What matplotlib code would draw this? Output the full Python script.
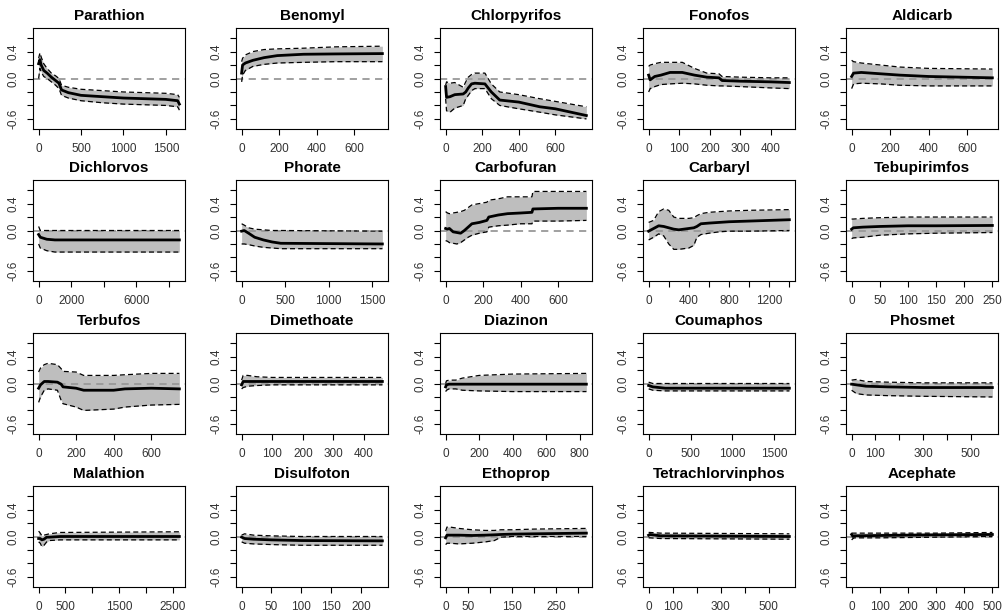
import matplotlib
matplotlib.use("Agg")
from matplotlib import pyplot as plt

plt.rcParams['font.family'] = ['Liberation Sans', 'DejaVu Sans']

# ---- data (x, mean, lower, upper) ----
parathion_x = [0, 15, 30, 60, 100, 150, 200, 240, 270, 350, 500, 750, 1000, 1250, 1500, 1640, 1660]
parathion_mid = [0.22, 0.28, 0.2, 0.12, 0.08, 0.02, -0.03, -0.07, -0.17, -0.21, -0.25, -0.27, -0.29, -0.3, -0.31, -0.33, -0.38]
parathion_lo = [0.0, 0.15, 0.1, 0.03, 0.0, -0.05, -0.1, -0.15, -0.25, -0.29, -0.33, -0.36, -0.38, -0.39, -0.4, -0.42, -0.47]
parathion_hi = [0.3, 0.38, 0.32, 0.22, 0.15, 0.08, 0.04, 0.0, -0.1, -0.13, -0.16, -0.18, -0.2, -0.21, -0.22, -0.24, -0.28]

benomyl_x = [0, 5, 20, 60, 120, 190, 330, 500, 750]
benomyl_mid = [0.08, 0.2, 0.23, 0.27, 0.31, 0.34, 0.36, 0.365, 0.37]
benomyl_lo = [-0.05, 0.05, 0.12, 0.18, 0.21, 0.23, 0.24, 0.25, 0.25]
benomyl_hi = [0.25, 0.3, 0.35, 0.4, 0.43, 0.44, 0.45, 0.47, 0.48]

chlorpyrifos_x = [0, 5, 24, 50, 96, 110, 124, 142, 160, 215, 250, 296, 400, 515, 600, 770]
chlorpyrifos_mid = [-0.12, -0.28, -0.27, -0.24, -0.23, -0.2, -0.14, -0.08, -0.07, -0.08, -0.2, -0.32, -0.35, -0.42, -0.45, -0.55]
chlorpyrifos_lo = [-0.3, -0.48, -0.5, -0.44, -0.4, -0.3, -0.25, -0.18, -0.15, -0.15, -0.3, -0.4, -0.45, -0.5, -0.54, -0.6]
chlorpyrifos_hi = [-0.1, -0.05, -0.07, -0.06, -0.13, -0.05, 0.02, 0.06, 0.08, 0.08, -0.08, -0.2, -0.24, -0.3, -0.34, -0.42]

fonofos_x = [0, 5, 20, 40, 70, 110, 150, 190, 230, 240, 300, 400, 460]
fonofos_mid = [0.05, -0.02, 0.03, 0.05, 0.09, 0.09, 0.05, 0.02, 0.01, -0.03, -0.04, -0.05, -0.06]
fonofos_lo = [-0.2, -0.15, -0.12, -0.09, -0.08, -0.07, -0.08, -0.1, -0.11, -0.11, -0.12, -0.14, -0.15]
fonofos_hi = [0.18, 0.2, 0.22, 0.24, 0.24, 0.24, 0.15, 0.08, 0.07, 0.03, 0.02, 0.01, 0.01]

aldicarb_x = [0, 10, 50, 150, 250, 400, 730]
aldicarb_mid = [0.03, 0.08, 0.09, 0.07, 0.05, 0.03, 0.01]
aldicarb_lo = [-0.15, -0.08, -0.07, -0.08, -0.1, -0.11, -0.11]
aldicarb_hi = [0.27, 0.25, 0.23, 0.2, 0.17, 0.15, 0.14]

dichlorvos_x = [0, 100, 500, 1000, 8650]
dichlorvos_mid = [-0.06, -0.1, -0.13, -0.14, -0.14]
dichlorvos_lo = [-0.2, -0.26, -0.3, -0.32, -0.32]
dichlorvos_hi = [0.06, 0.0, 0.0, 0.0, 0.0]

phorate_x = [0, 30, 80, 150, 250, 350, 450, 1620]
phorate_mid = [-0.01, 0.0, -0.04, -0.1, -0.14, -0.17, -0.19, -0.2]
phorate_lo = [-0.2, -0.2, -0.21, -0.23, -0.25, -0.26, -0.27, -0.27]
phorate_hi = [0.1, 0.08, 0.04, 0.02, 0.01, 0.0, 0.0, -0.01]

carbofuran_x = [0, 10, 20, 40, 60, 80, 100, 120, 140, 180, 220, 230, 280, 330, 400, 460, 465, 600, 750]
carbofuran_mid = [0.03, 0.02, 0.03, -0.02, -0.03, -0.04, 0.0, 0.05, 0.1, 0.12, 0.15, 0.2, 0.23, 0.25, 0.26, 0.27, 0.32, 0.33, 0.33]
carbofuran_lo = [-0.15, -0.16, -0.18, -0.19, -0.2, -0.18, -0.14, -0.1, -0.07, -0.04, -0.02, 0.05, 0.07, 0.08, 0.1, 0.1, 0.14, 0.14, 0.15]
carbofuran_hi = [0.28, 0.26, 0.25, 0.26, 0.27, 0.28, 0.3, 0.34, 0.38, 0.4, 0.42, 0.45, 0.47, 0.5, 0.5, 0.5, 0.58, 0.58, 0.58]

carbaryl_x = [0, 50, 100, 150, 200, 250, 300, 400, 450, 480, 520, 600, 700, 800, 1000, 1400]
carbaryl_mid = [-0.01, 0.03, 0.07, 0.06, 0.04, 0.02, 0.01, 0.03, 0.04, 0.06, 0.1, 0.11, 0.12, 0.13, 0.14, 0.16]
carbaryl_lo = [-0.14, -0.1, -0.05, -0.08, -0.2, -0.28, -0.28, -0.26, -0.22, -0.1, -0.06, -0.04, -0.02, -0.01, -0.01, 0.0]
carbaryl_hi = [0.12, 0.15, 0.28, 0.32, 0.3, 0.2, 0.18, 0.18, 0.19, 0.22, 0.25, 0.27, 0.28, 0.29, 0.3, 0.31]

tebupirimfos_x = [0, 3, 20, 50, 100, 150, 250]
tebupirimfos_mid = [0.02, 0.04, 0.05, 0.06, 0.07, 0.07, 0.075]
tebupirimfos_lo = [-0.12, -0.11, -0.1, -0.07, -0.05, -0.04, -0.03]
tebupirimfos_hi = [0.17, 0.17, 0.18, 0.19, 0.2, 0.2, 0.2]

terbufos_x = [0, 10, 30, 50, 100, 120, 130, 200, 240, 400, 460, 600, 750]
terbufos_mid = [-0.07, -0.02, 0.03, 0.03, 0.02, -0.01, -0.05, -0.07, -0.1, -0.1, -0.08, -0.07, -0.08]
terbufos_lo = [-0.28, -0.2, -0.1, -0.08, -0.1, -0.25, -0.3, -0.35, -0.4, -0.38, -0.35, -0.32, -0.31]
terbufos_hi = [0.17, 0.23, 0.28, 0.3, 0.28, 0.22, 0.18, 0.17, 0.12, 0.12, 0.13, 0.15, 0.15]

dimethoate_x = [0, 5, 20, 50, 100, 460]
dimethoate_mid = [-0.02, 0.03, 0.03, 0.03, 0.03, 0.03]
dimethoate_lo = [-0.08, -0.06, -0.04, -0.03, -0.02, -0.02]
dimethoate_hi = [0.05, 0.12, 0.12, 0.1, 0.09, 0.09]

diazinon_x = [0, 5, 20, 60, 100, 200, 400, 840]
diazinon_mid = [-0.05, -0.02, -0.01, -0.01, -0.01, -0.01, -0.01, -0.01]
diazinon_lo = [-0.12, -0.1, -0.08, -0.08, -0.1, -0.11, -0.12, -0.12]
diazinon_hi = [0.0, 0.04, 0.05, 0.05, 0.08, 0.12, 0.14, 0.15]

coumaphos_x = [0, 50, 200, 1680]
coumaphos_mid = [-0.03, -0.05, -0.07, -0.07]
coumaphos_lo = [-0.08, -0.1, -0.11, -0.11]
coumaphos_hi = [0.02, 0.0, 0.0, 0.0]

phosmet_x = [0, 20, 60, 150, 300, 590]
phosmet_mid = [-0.01, -0.02, -0.04, -0.05, -0.06, -0.06]
phosmet_lo = [-0.1, -0.15, -0.17, -0.18, -0.19, -0.2]
phosmet_hi = [0.05, 0.06, 0.03, 0.02, 0.01, 0.01]

malathion_x = [0, 30, 60, 100, 150, 200, 400, 2620]
malathion_mid = [-0.03, -0.03, -0.05, -0.04, -0.01, -0.01, 0.0, 0.0]
malathion_lo = [-0.08, -0.1, -0.15, -0.13, -0.08, -0.06, -0.05, -0.05]
malathion_hi = [0.08, 0.05, 0.01, 0.02, 0.03, 0.04, 0.06, 0.07]

disulfoton_x = [0, 5, 20, 50, 100, 236]
disulfoton_mid = [-0.01, -0.03, -0.04, -0.05, -0.06, -0.065]
disulfoton_lo = [-0.08, -0.1, -0.11, -0.12, -0.13, -0.13]
disulfoton_hi = [0.02, 0.04, 0.02, 0.01, 0.0, 0.0]

ethoprop_x = [0, 3, 10, 30, 60, 90, 110, 125, 150, 200, 318]
ethoprop_mid = [-0.02, 0.02, 0.02, 0.02, 0.015, 0.02, 0.025, 0.03, 0.035, 0.04, 0.05]
ethoprop_lo = [-0.12, -0.1, -0.1, -0.11, -0.1, -0.08, -0.06, -0.01, 0.0, 0.0, 0.0]
ethoprop_hi = [0.08, 0.14, 0.14, 0.12, 0.1, 0.09, 0.09, 0.1, 0.1, 0.11, 0.12]

tetrachlorvinphos_x = [0, 5, 50, 585]
tetrachlorvinphos_mid = [0.02, 0.03, 0.01, 0.0]
tetrachlorvinphos_lo = [-0.02, -0.02, -0.03, -0.04]
tetrachlorvinphos_hi = [0.06, 0.06, 0.05, 0.04]

acephate_x = [0, 5, 10, 100, 300, 500]
acephate_mid = [0.03, 0.0, 0.01, 0.015, 0.025, 0.03]
acephate_lo = [-0.05, -0.03, -0.02, -0.02, -0.01, 0.0]
acephate_hi = [0.05, 0.05, 0.05, 0.05, 0.05, 0.06]

# x tick positions and which of them carry a label
ticks_500 = [0, 500, 1000, 1500]
ticks_200 = [0, 200, 400, 600]
ticks_100 = [0, 100, 200, 300, 400]

panels = [
    ("Parathion", parathion_x, parathion_mid, parathion_lo, parathion_hi, ticks_500, ticks_500),
    ("Benomyl", benomyl_x, benomyl_mid, benomyl_lo, benomyl_hi, ticks_200, ticks_200),
    ("Chlorpyrifos", chlorpyrifos_x, chlorpyrifos_mid, chlorpyrifos_lo, chlorpyrifos_hi, ticks_200, ticks_200),
    ("Fonofos", fonofos_x, fonofos_mid, fonofos_lo, fonofos_hi, ticks_100, ticks_100),
    ("Aldicarb", aldicarb_x, aldicarb_mid, aldicarb_lo, aldicarb_hi, ticks_200, ticks_200),
    ("Dichlorvos", dichlorvos_x, dichlorvos_mid, dichlorvos_lo, dichlorvos_hi,
     [0, 2000, 4000, 6000, 8000], [0, 2000, 6000]),
    ("Phorate", phorate_x, phorate_mid, phorate_lo, phorate_hi, ticks_500, ticks_500),
    ("Carbofuran", carbofuran_x, carbofuran_mid, carbofuran_lo, carbofuran_hi, ticks_200, ticks_200),
    ("Carbaryl", carbaryl_x, carbaryl_mid, carbaryl_lo, carbaryl_hi,
     [0, 200, 400, 600, 800, 1000, 1200, 1400], [0, 400, 800, 1200]),
    ("Tebupirimfos", tebupirimfos_x, tebupirimfos_mid, tebupirimfos_lo, tebupirimfos_hi,
     [0, 50, 100, 150, 200, 250], [0, 50, 100, 150, 200, 250]),
    ("Terbufos", terbufos_x, terbufos_mid, terbufos_lo, terbufos_hi, ticks_200, ticks_200),
    ("Dimethoate", dimethoate_x, dimethoate_mid, dimethoate_lo, dimethoate_hi, ticks_100, ticks_100),
    ("Diazinon", diazinon_x, diazinon_mid, diazinon_lo, diazinon_hi,
     [0, 200, 400, 600, 800], [0, 200, 400, 600, 800]),
    ("Coumaphos", coumaphos_x, coumaphos_mid, coumaphos_lo, coumaphos_hi, ticks_500, ticks_500),
    ("Phosmet", phosmet_x, phosmet_mid, phosmet_lo, phosmet_hi,
     [0, 100, 200, 300, 400, 500], [0, 100, 300, 500]),
    ("Malathion", malathion_x, malathion_mid, malathion_lo, malathion_hi,
     [0, 500, 1000, 1500, 2000, 2500], [0, 500, 1500, 2500]),
    ("Disulfoton", disulfoton_x, disulfoton_mid, disulfoton_lo, disulfoton_hi,
     [0, 50, 100, 150, 200], [0, 50, 100, 150, 200]),
    ("Ethoprop", ethoprop_x, ethoprop_mid, ethoprop_lo, ethoprop_hi,
     [0, 50, 100, 150, 200, 250, 300], [0, 50, 150, 250]),
    ("Tetrachlorvinphos", tetrachlorvinphos_x, tetrachlorvinphos_mid, tetrachlorvinphos_lo, tetrachlorvinphos_hi,
     [0, 100, 200, 300, 400, 500], [0, 100, 300, 500]),
    ("Acephate", acephate_x, acephate_mid, acephate_lo, acephate_hi,
     [0, 100, 200, 300, 400, 500], [0, 100, 200, 300, 400, 500]),
]

y_ticks = [-0.6, -0.4, -0.2, 0.0, 0.2, 0.4, 0.6]
y_labels = ["-0.6", "", "", "0.0", "", "0.4", ""]

W, H = 1003, 616
fig = plt.figure(figsize=(W / 100, H / 100), dpi=100)

col_left = [33, 236, 440, 643, 846]
row_top = [28, 180, 333, 486]
pw, ph = 152, 101

for i, (name, x, mid, lo, hi, ticks, shown) in enumerate(panels):
    r, c = divmod(i, 5)
    ax = fig.add_axes([col_left[c] / W, 1 - (row_top[r] + ph) / H, pw / W, ph / H])

    ax.fill_between(x, lo, hi, color='#bebebe', lw=0)
    ax.axhline(0, color='#999999', lw=1.3, ls=(0, (4, 3)))
    ax.plot(x, lo, color='black', lw=0.9, ls=(0, (4, 2.5)))
    ax.plot(x, hi, color='black', lw=0.9, ls=(0, (4, 2.5)))
    ax.plot(x, mid, color='black', lw=2)

    ax.margins(x=0.04)
    ax.set_ylim(-0.75, 0.75)
    ax.set_yticks(y_ticks)
    ax.set_yticklabels(y_labels, rotation=90, va='center')
    ax.set_xticks(ticks)
    ax.set_xticklabels([str(t) if t in shown else "" for t in ticks])
    ax.tick_params(direction='out', length=4, width=0.8, labelsize=8.5,
                   labelcolor='#333333', pad=6)
    for s in ax.spines.values():
        s.set_linewidth(0.8)
    ax.set_title(name, fontsize=11, fontweight='bold', pad=6)

fig.savefig("out.png", dpi=100)
